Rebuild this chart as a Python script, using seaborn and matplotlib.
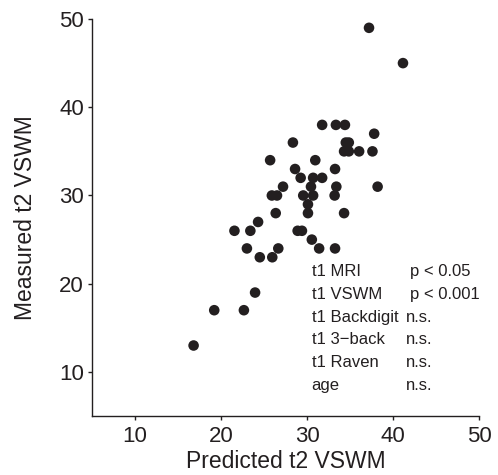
import pandas as pd
import matplotlib
matplotlib.use("Agg")
import matplotlib.pyplot as plt
import seaborn as sns

# predicted vs measured t2 VSWM
predicted = [37.2, 41.15,
             31.75, 33.35, 34.4,
             37.8,
             28.35, 34.5, 34.85,
             34.3, 34.85, 36.05, 37.6,
             25.7, 30.95,
             28.6, 33.25,
             29.25, 30.7, 31.75,
             27.2, 30.45, 33.4, 38.2,
             25.9, 26.5, 29.55, 30.7, 33.2,
             30.1,
             26.35, 30.1, 34.3,
             24.3,
             21.55, 23.4, 28.9, 29.4,
             30.55,
             23.0, 26.65, 31.4, 33.25,
             24.5, 25.95,
             23.95,
             19.2, 22.65,
             16.8]
measured = [49, 45,
            38, 38, 38,
            37,
            36, 36, 36,
            35, 35, 35, 35,
            34, 34,
            33, 33,
            32, 32, 32,
            31, 31, 31, 31,
            30, 30, 30, 30, 30,
            29,
            28, 28, 28,
            27,
            26, 26, 26, 26,
            25,
            24, 24, 24, 24,
            23, 23,
            19,
            17, 17,
            13]

predictors = ["t1 MRI", "t1 VSWM", "t1 Backdigit", "t1 3\u2212back", "t1 Raven", "age"]
pvalues = ["p < 0.05", "p < 0.001", "n.s.", "n.s.", "n.s.", "n.s."]

veri = pd.DataFrame({"predicted": predicted, "measured": measured})

sns.set_style("ticks")
plt.rcParams["font.family"] = ["Liberation Sans", "DejaVu Sans"]

fig = plt.figure(figsize=(4.98, 4.75), dpi=100)
ax = fig.add_axes([0.185, 0.124, 0.777, 0.836])

sns.scatterplot(x="predicted", y="measured", data=veri, ax=ax,
                color="#231f20", s=58, edgecolor="none", linewidth=0)

ax.set_xlim(5, 50)
ax.set_ylim(5, 50)
ax.set_xticks([10, 20, 30, 40, 50])
ax.set_yticks([10, 20, 30, 40, 50])
sns.despine(ax=ax)
for sp in ["left", "bottom"]:
    ax.spines[sp].set_linewidth(1.0)
    ax.spines[sp].set_color("#231f20")
ax.tick_params(direction="out", length=3, width=1, labelsize=16,
               colors="#231f20", labelcolor="#231f20")
ax.tick_params(axis="x", pad=4)
ax.tick_params(axis="y", pad=3)

ax.set_xlabel("Predicted t2 VSWM", fontsize=16.5, color="#231f20", labelpad=2)
ax.set_ylabel("Measured t2 VSWM", fontsize=16.5, color="#231f20", labelpad=16)

# predictor significance table
for i, (nm, pv) in enumerate(zip(predictors, pvalues)):
    yy = 21.43 - i * 2.6
    ax.text(30.52, yy, nm, fontsize=12, va="center", ha="left", color="#231f20")
    px = 41.93 if pv.startswith("p") else 41.46
    ax.text(px, yy, pv, fontsize=12, va="center", ha="left", color="#231f20")

fig.savefig("out.png", dpi=100)
